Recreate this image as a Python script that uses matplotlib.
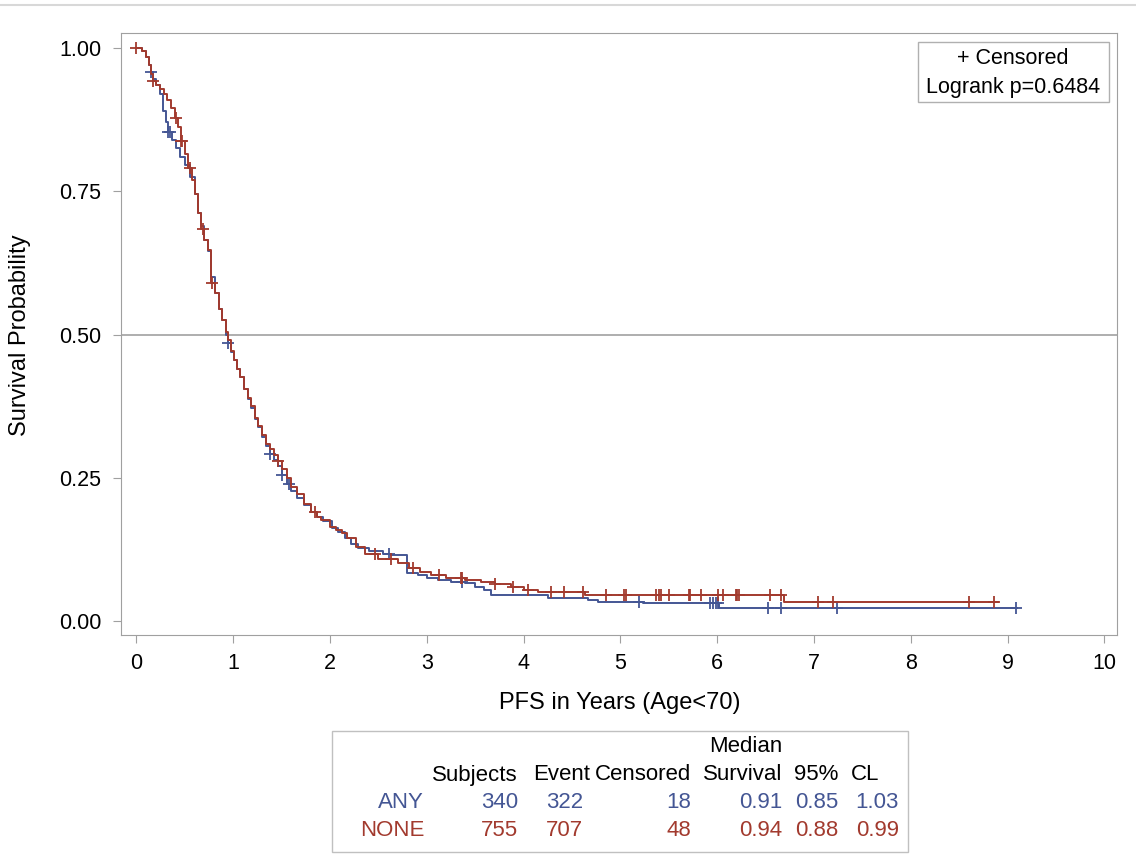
import numpy as np
import matplotlib
matplotlib.use("Agg")
from matplotlib import pyplot as plt
from matplotlib.patches import Rectangle

plt.rcParams['font.family'] = ['Liberation Sans', 'DejaVu Sans']

# Kaplan-Meier step knots (years, survival)
any_t = [0, 0.06, 0.1, 0.13, 0.15, 0.17, 0.2, 0.24, 0.27, 0.3, 0.33, 0.37, 0.41, 0.45, 0.5,
         0.55, 0.6, 0.64, 0.67, 0.7, 0.74, 0.77, 0.81, 0.85, 0.88, 0.92, 0.95, 0.98, 1.01,
         1.04, 1.07, 1.11, 1.15, 1.18, 1.22, 1.26, 1.3, 1.34, 1.38, 1.42, 1.46, 1.5, 1.55,
         1.6, 1.66, 1.73, 1.8, 1.86, 1.93, 2.02, 2.08, 2.15, 2.22, 2.29, 2.4, 2.55, 2.63,
         2.79, 2.91, 3.0, 3.11, 3.25, 3.39, 3.5, 3.59, 3.66, 4.25, 4.66, 4.77, 5.23, 6.02]
any_s = [1.0, 0.995, 0.985, 0.97, 0.958, 0.945, 0.935, 0.92, 0.89, 0.87, 0.853, 0.84, 0.825,
         0.81, 0.795, 0.775, 0.745, 0.712, 0.69, 0.665, 0.645, 0.6, 0.572, 0.545, 0.525, 0.5,
         0.485, 0.47, 0.455, 0.44, 0.426, 0.405, 0.388, 0.372, 0.352, 0.338, 0.322, 0.305,
         0.292, 0.282, 0.27, 0.255, 0.24, 0.228, 0.215, 0.203, 0.19, 0.182, 0.174, 0.162,
         0.155, 0.145, 0.135, 0.127, 0.122, 0.118, 0.115, 0.084, 0.08, 0.076, 0.072, 0.068,
         0.066, 0.06, 0.054, 0.045, 0.04, 0.037, 0.033, 0.031, 0.023]
any_end = 9.1
any_cens = [0.155, 0.33, 0.35, 0.95, 1.38, 1.5, 1.58, 2.61, 3.36, 5.19, 5.93, 5.96, 5.99,
            6.01, 6.52, 6.66, 7.24, 9.09]

none_t = [0, 0.06, 0.1, 0.13, 0.15, 0.17, 0.2, 0.24, 0.28, 0.32, 0.36, 0.4, 0.43, 0.46, 0.5,
          0.53, 0.57, 0.6, 0.64, 0.67, 0.7, 0.74, 0.77, 0.81, 0.85, 0.88, 0.92, 0.95, 0.98,
          1.01, 1.04, 1.07, 1.11, 1.15, 1.18, 1.22, 1.26, 1.3, 1.34, 1.38, 1.42, 1.46, 1.5,
          1.55, 1.6, 1.66, 1.73, 1.8, 1.86, 1.91, 2.0, 2.06, 2.12, 2.18, 2.27, 2.36, 2.5, 2.7,
          2.82, 2.93, 3.04, 3.2, 3.39, 3.56, 3.7, 3.87, 4.0, 4.15, 4.63, 6.69]
none_s = [1.0, 0.995, 0.985, 0.97, 0.955, 0.942, 0.935, 0.928, 0.92, 0.91, 0.895, 0.878,
          0.862, 0.838, 0.815, 0.79, 0.77, 0.745, 0.712, 0.685, 0.665, 0.647, 0.59, 0.572,
          0.545, 0.525, 0.505, 0.49, 0.472, 0.455, 0.44, 0.426, 0.405, 0.39, 0.375, 0.355,
          0.34, 0.325, 0.31, 0.3, 0.29, 0.28, 0.265, 0.25, 0.235, 0.222, 0.205, 0.19, 0.182,
          0.176, 0.165, 0.16, 0.154, 0.145, 0.13, 0.118, 0.108, 0.101, 0.093, 0.086, 0.08,
          0.075, 0.072, 0.068, 0.065, 0.06, 0.055, 0.051, 0.046, 0.034]
none_end = 8.9
none_cens = [0.0, 0.17, 0.41, 0.46, 0.47, 0.55, 0.69, 0.78, 1.46, 1.84, 2.46, 2.63, 2.86,
             3.13, 3.35, 3.36, 3.70, 3.89, 4.05, 4.28, 4.42, 4.61, 4.85, 5.04, 5.06, 5.37,
             5.40, 5.42, 5.50, 5.71, 5.72, 5.83, 6.01, 6.06, 6.19, 6.20, 6.22, 6.55, 6.66,
             7.04, 7.20, 8.60, 8.86]

groups = ["ANY", "NONE"]
colors = ["#445694", "#A23A2E"]

table_head = ["Subjects", "Event", "Censored", "Survival", "95%", "CL"]
table_rows = [["340", "322", "18", "0.91", "0.85", "1.03"],
              ["755", "707", "48", "0.94", "0.88", "0.99"]]

W, H = 1136, 867
fig = plt.figure(figsize=(W / 100, H / 100), dpi=100)


def px(x, y):
    return x / W, 1 - y / H


ax = fig.add_axes([121 / W, 1 - 635 / H, 996 / W, 602 / H])

for t, s, t_end, cens, c in [(any_t, any_s, any_end, any_cens, colors[0]),
                             (none_t, none_s, none_end, none_cens, colors[1])]:
    tt = np.append(t, t_end)
    ss = np.append(s, s[-1])
    ax.step(tt, ss, where="post", color=c, lw=1.4)
    idx = np.searchsorted(t, cens, side="right") - 1
    ax.plot(cens, np.array(s)[idx], "+", color=c, ms=9, mew=1.3)

ax.axhline(0.5, color="#A8A8A8", lw=1.3, zorder=0)

ax.set_xlim(-0.16, 10.13)
ax.set_ylim(-0.024, 1.026)
ax.set_xticks(range(0, 11))
ax.set_yticks([0, 0.25, 0.5, 0.75, 1.0])
ax.set_yticklabels(["0.00", "0.25", "0.50", "0.75", "1.00"])
for sp in ax.spines.values():
    sp.set_color("#A0A0A0")
ax.tick_params(direction="out", length=6, color="#A0A0A0", labelsize=15.5, pad=8)
ax.tick_params(axis="x", pad=7)

fig.text(*px(620, 703), "PFS in Years (Age<70)", ha="center", va="center", fontsize=17)
fig.text(*px(20, 335), "Survival Probability", ha="center", va="center", rotation=90,
         fontsize=17)

# inset legend box
ax.add_patch(Rectangle(px(918, 102), 191 / W, 60 / H, transform=fig.transFigure,
                       fill=False, ec="#B0B0B0", lw=1))
fig.text(*px(1013, 58), "+ Censored", ha="center", va="center", fontsize=15.5)
fig.text(*px(1013, 88), "Logrank p=0.6484", ha="center", va="center", fontsize=15.5)

# summary table
fig.patches.append(Rectangle(px(332, 852), 576 / W, 121 / H, transform=fig.transFigure,
                             fill=False, ec="#C0C0C0", lw=1))
col_x = [518, 583, 691, 782, 838, 899]
fig.text(*px(782, 746), "Median", ha="right", va="center", fontsize=16)
for j, h in enumerate(table_head):
    if h == "CL":
        fig.text(*px(851, 775), h, ha="left", va="center", fontsize=16)
    elif h == "Event":
        fig.text(*px(590, 775), h, ha="right", va="center", fontsize=16)
    else:
        fig.text(*px(col_x[j], 775), h, ha="right", va="center", fontsize=16)
for i, (g, row) in enumerate(zip(groups, table_rows)):
    y = 803 + 28 * i
    fig.text(*px(424, y), g, ha="right", va="center", fontsize=16, color=colors[i])
    for j, v in enumerate(row):
        fig.text(*px(col_x[j], y), v, ha="right", va="center", fontsize=16, color=colors[i])

fig.lines.append(plt.Line2D([0, 1], [1 - 5 / H, 1 - 5 / H], transform=fig.transFigure,
                            color="#D8D8D8", lw=1.5))

fig.savefig("out.png", dpi=100)
